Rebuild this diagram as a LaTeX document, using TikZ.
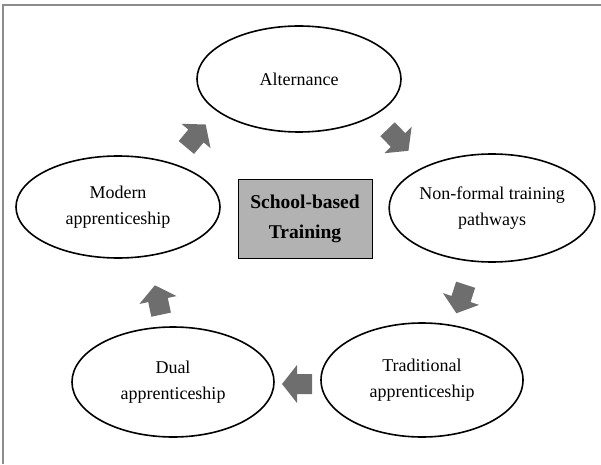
\documentclass[tikz,border=0pt]{standalone}
\usepackage{fontspec}
\setmainfont{Liberation Serif}
\usetikzlibrary{shapes.geometric}
\definecolor{framegray}{HTML}{8C8C8C}
\definecolor{arrowgray}{HTML}{6E6E6E}
\definecolor{boxgray}{HTML}{B2B2B2}
\tikzset{
  ell/.style={ellipse, draw=black, line width=1.6pt, inner sep=0pt, align=center,
    font=\fontsize{18}{26}\selectfont},
  centerbox/.style={rectangle, draw=black, line width=0.9pt, fill=boxgray, align=center,
    font=\fontsize{19.5}{30}\selectfont\bfseries, minimum width=134pt, minimum height=79pt, inner sep=0pt},
  blockarrow/.pic={\fill[arrowgray] (-15,-10) -- (0,-10) -- (0,-19) -- (15,0) -- (0,19) -- (0,10) -- (-15,10) -- cycle;}
}
\begin{document}
\begin{tikzpicture}[x=1pt,y=1pt]
\useasboundingbox (0,0) rectangle (601,464);
\draw[framegray, line width=1.5pt] (3,0) -- (3,459) -- (601,459);
\node[ell, minimum width=204pt, minimum height=106pt] (alt) at (299,385) {Alternance};
\node[ell, minimum width=204pt, minimum height=102pt] (mod) at (118,257) {Modern\\apprenticeship};
\node[ell, minimum width=200pt, minimum height=108pt] (nonf) at (492,256) {Non-formal training\\pathways};
\node[ell, minimum width=202pt, minimum height=114pt] (trad) at (422,84) {Traditional\\apprenticeship};
\node[ell, minimum width=202pt, minimum height=110pt] (dual) at (173,82) {Dual\\apprenticeship};
\node[centerbox] (sbt) at (305,245) {School-based\\Training};
\coordinate (a1) at (196,328);
\coordinate (a2) at (398,324);
\coordinate (a3) at (461,165);
\coordinate (a4) at (297,80);
\coordinate (a5) at (158,164);
\pic[rotate=50] at (a1) {blockarrow};
\pic[rotate=-46] at (a2) {blockarrow};
\pic[rotate=-108] at (a3) {blockarrow};
\pic[rotate=180] at (a4) {blockarrow};
\pic[rotate=102] at (a5) {blockarrow};
\end{tikzpicture}
\end{document}
